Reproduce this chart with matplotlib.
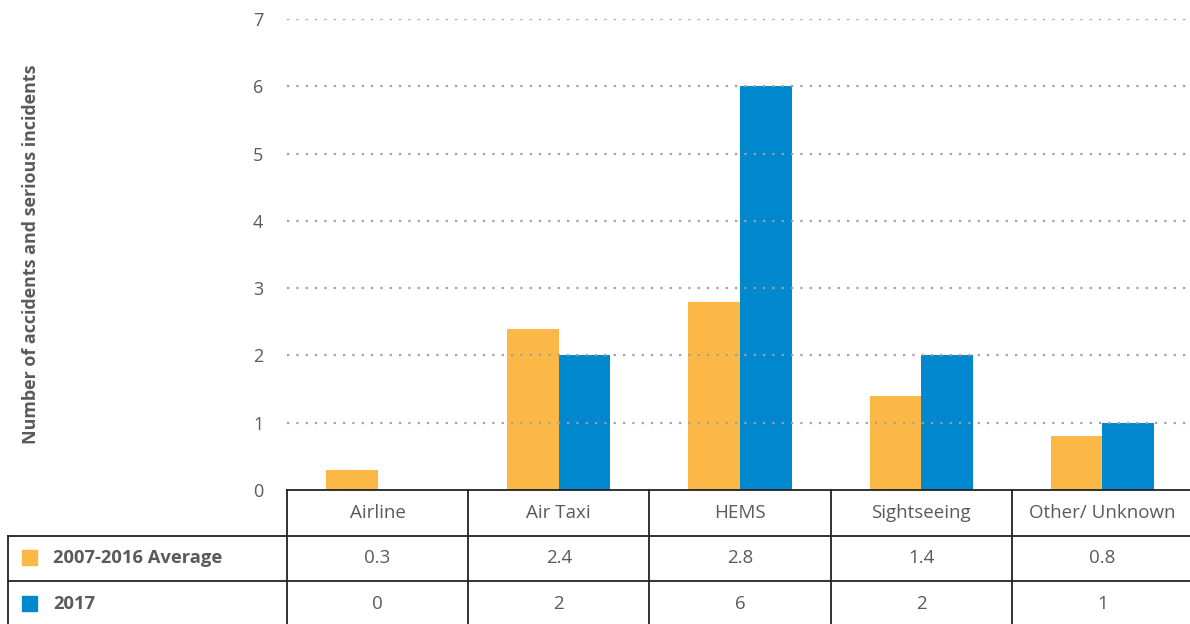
import matplotlib.pyplot as plt
import numpy as np
from matplotlib.transforms import blended_transform_factory
from matplotlib.patches import Rectangle

categories = ["Airline", "Air Taxi", "HEMS", "Sightseeing", "Other/ Unknown"]
avg_2007_2016 = [0.3, 2.4, 2.8, 1.4, 0.8]
year_2017 = [0, 2, 6, 2, 1]
avg_labels = ["0.3", "2.4", "2.8", "1.4", "0.8"]
y2017_labels = ["0", "2", "6", "2", "1"]
series_names = ["2007-2016 Average", "2017"]

orange = "#FBB847"
blue = "#0088CE"
text_col = "#5a5a5a"
line_col = "#222222"

plt.rcParams['font.family'] = ['Open Sans', 'DejaVu Sans']

W, H = 1190, 624
fig = plt.figure(figsize=(W / 100, H / 100), dpi=100)

# axes spans from pixel x=287 to 1193, y=19 to 490 (top-down)
x0, x1 = 287, 1193
ytop, ybot = 19, 490
ax = fig.add_axes([x0 / W, (H - ybot) / H, (x1 - x0) / W, (ybot - ytop) / H])

x = np.arange(len(categories))
bw = 0.285
ax.bar(x - bw / 2, avg_2007_2016, bw, color=orange, zorder=2)
ax.bar(x + bw / 2, year_2017, bw, color=blue, zorder=2)

ax.set_xlim(-0.5, len(categories) - 0.5)
ax.set_ylim(0, 7)
ax.set_yticks(range(0, 8))
ax.tick_params(axis='y', length=0, pad=17, labelsize=13, labelcolor=text_col)
ax.set_xticks([])
for s in ["top", "right", "left"]:
    ax.spines[s].set_visible(False)
ax.spines["bottom"].set_color(line_col)
ax.spines["bottom"].set_linewidth(1.3)
ax.spines["bottom"].set_zorder(4)

for v in range(1, 8):
    ax.axhline(v, color="#a0a0a0", linestyle=(0, (1, 3.2)), linewidth=1.6, zorder=3)

ax.set_ylabel("Number of accidents and serious incidents", fontsize=12.9,
              fontweight="bold", color=text_col)
ax.yaxis.set_label_coords(-(x0 - 40) / (x1 - x0), 0.5)

# data table under the axis: x in data units, y in figure pixels
tr = blended_transform_factory(ax.transData, fig.transFigure)
trf = fig.transFigure


def fy(py):
    return (H - py) / H


row_lines = [536, 581]
row_mid = [513, 558, 604]
edges = np.arange(-0.5, len(categories), 1.0)

for e in edges:
    fig.add_artist(plt.Line2D([e, e], [fy(ybot), fy(H + 5)], transform=tr,
                              color=line_col, linewidth=1.3, zorder=5))
for ry in row_lines:
    fig.add_artist(plt.Line2D([8 / W, 1.0], [fy(ry), fy(ry)], transform=trf,
                              color=line_col, linewidth=1.3, zorder=5))
fig.add_artist(plt.Line2D([8 / W, 8 / W], [fy(536), fy(H + 5)], transform=trf,
                          color=line_col, linewidth=1.3, zorder=5))

for i, c in enumerate(categories):
    fig.text(i, fy(row_mid[0]), c, transform=tr, ha="center", va="center",
             fontsize=13.5, color=text_col)
    fig.text(i, fy(row_mid[1]), avg_labels[i], transform=tr, ha="center",
             va="center", fontsize=13.5, color=text_col)
    fig.text(i, fy(row_mid[2]), y2017_labels[i], transform=tr, ha="center",
             va="center", fontsize=13.5, color=text_col)

for name, col, my in zip(series_names, [orange, blue], row_mid[1:]):
    fig.add_artist(Rectangle((22 / W, fy(my + 7)), 15 / W, 15 / H,
                             transform=trf, color=col))
    fig.text(53 / W, fy(my), name, transform=trf, ha="left", va="center",
             fontsize=13.2, fontweight="bold", color=text_col)

fig.savefig("out.png", dpi=100)
